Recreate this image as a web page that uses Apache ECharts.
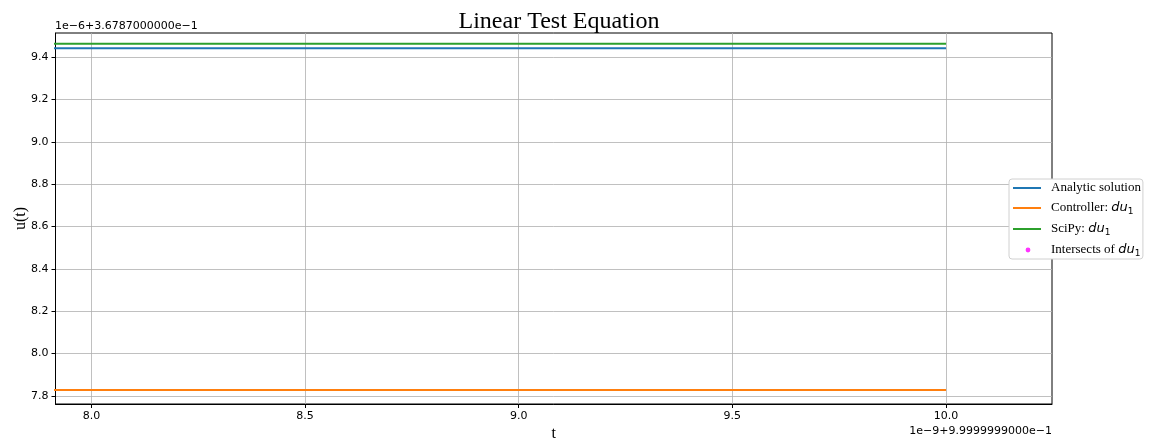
<!DOCTYPE html>
<html>
<head>
<meta charset="utf-8">
<script src="https://cdn.jsdelivr.net/npm/echarts@6/dist/echarts.min.js"></script>
<style>html,body{margin:0;padding:0;background:#fff}#c{width:1155px;height:442px}</style>
</head>
<body>
<div id="c"></div>
<script>
// Data (offsets: t = 0.99999999 + x*1e-9, u = 0.36787 + y*1e-6)
const tValues = [7.9, 10.0];
const analyticSolution = [9.443, 9.443];
const controllerDu1 = [7.827, 7.827];
const scipyDu1 = [9.464, 9.464];
const intersectsDu1 = [];
const xTicks = [8.0, 8.5, 9.0, 9.5, 10.0];
const yTicks = [7.8, 8.0, 8.2, 8.4, 8.6, 8.8, 9.0, 9.2, 9.4];
const seriesNames = ['Analytic solution', 'Controller: du1', 'SciPy: du1', 'Intersects of du1'];
const xOffsetText = '1e\u22129+9.9999999000e\u22121';
const yOffsetText = '1e\u22126+3.6787000000e\u22121';

const pair = (xs, ys) => xs.map((x, i) => [x, ys[i]]);
const serif = 'Liberation Serif, Times New Roman, serif';
const sans = 'DejaVu Sans, sans-serif';
const lineIcon = 'path://M0 0H28V2H0Z M0 -6 M28 8';
const dotIcon = 'path://M0 0 M28 14 M15 4.6 A2.4 2.4 0 1 1 15 9.4 A2.4 2.4 0 1 1 15 4.6 Z';

const chart = echarts.init(document.getElementById('c'), null, {renderer: 'canvas'});
const lineSeries = (name, ys, color) => ({
  name, type: 'line', data: pair(tValues, ys), showSymbol: false, symbol: 'none',
  lineStyle: {color, width: 2}, itemStyle: {color}, clip: true, animation: false
});
chart.setOption({
  animation: false,
  title: {
    text: 'Linear Test Equation', left: 554, top: 5, textAlign: 'center',
    textStyle: {fontFamily: serif, fontSize: 24, fontWeight: 'normal', color: '#000'}
  },
  grid: {left: 55.5, right: 103, top: 33, bottom: 38, outerBoundsMode: 'none', containLabel: false,
    show: true, borderColor: '#000', borderWidth: 1, backgroundColor: 'transparent'},
  xAxis: {
    type: 'value', min: 7.916, max: 10.248,
    name: 't', nameLocation: 'middle', nameGap: 22, nameMoveOverlap: false,
    nameTextStyle: {fontFamily: serif, fontSize: 16, color: '#000'},
    axisLine: {show: true, onZero: false, lineStyle: {color: '#000', width: 1}},
    axisTick: {show: true, customValues: xTicks, length: 4, lineStyle: {color: '#000'}},
    axisLabel: {customValues: xTicks, formatter: v => v.toFixed(1), fontFamily: sans, fontSize: 11, color: '#000', margin: 7},
    splitLine: {show: true, lineStyle: {color: '#b0b0b0', width: 0.8}}
  },
  yAxis: {
    type: 'value', min: 7.761, max: 9.515,
    name: 'u(t)', nameLocation: 'middle', nameGap: 27, nameRotate: 90, nameMoveOverlap: false,
    nameTextStyle: {fontFamily: serif, fontSize: 16, color: '#000'},
    axisLine: {show: true, onZero: false, lineStyle: {color: '#000', width: 1}},
    axisTick: {show: true, customValues: yTicks, length: 4, lineStyle: {color: '#000'}},
    axisLabel: {customValues: yTicks, formatter: v => v.toFixed(1), fontFamily: sans, fontSize: 11, color: '#000', margin: 7},
    splitLine: {show: true, lineStyle: {color: '#b0b0b0', width: 0.8}}
  },
  legend: {
    orient: 'vertical', left: 1009, top: 179, itemGap: 6, itemWidth: 28, itemHeight: 14,
    backgroundColor: '#fff', borderColor: '#d0d0d0', borderWidth: 1, borderRadius: 3,
    padding: [2, 2, 1, 4],
    data: [
      {name: seriesNames[0], icon: lineIcon},
      {name: seriesNames[1], icon: lineIcon},
      {name: seriesNames[2], icon: lineIcon},
      {name: seriesNames[3], icon: dotIcon, itemStyle: {color: '#ff00ff'}}
    ],
    formatter: n => n.replace(/du1$/, '{i|du}{s|1}'),
    textStyle: {
      fontFamily: serif, fontSize: 13, color: '#000', padding: [0, 0, 0, 5],
      rich: {
        i: {fontFamily: sans, fontStyle: 'oblique', fontSize: 13, color: '#000'},
        s: {fontFamily: sans, fontSize: 9, color: '#000', padding: [7, 0, 0, 0]}
      }
    }
  },
  graphic: [
    {type: 'text', left: 55, top: 21, style: {text: yOffsetText, font: '11px DejaVu Sans', fill: '#000'}},
    {type: 'text', right: 103, top: 426, style: {text: xOffsetText, font: '11px DejaVu Sans', fill: '#000'}}
  ],
  series: [
    lineSeries(seriesNames[0], analyticSolution, '#1f77b4'),
    lineSeries(seriesNames[1], controllerDu1, '#ff7f0e'),
    lineSeries(seriesNames[2], scipyDu1, '#2ca02c'),
    {name: seriesNames[3], type: 'scatter', data: intersectsDu1, symbol: 'circle', symbolSize: 5, itemStyle: {color: '#ff00ff'}}
  ]
});
</script>
</body>
</html>
